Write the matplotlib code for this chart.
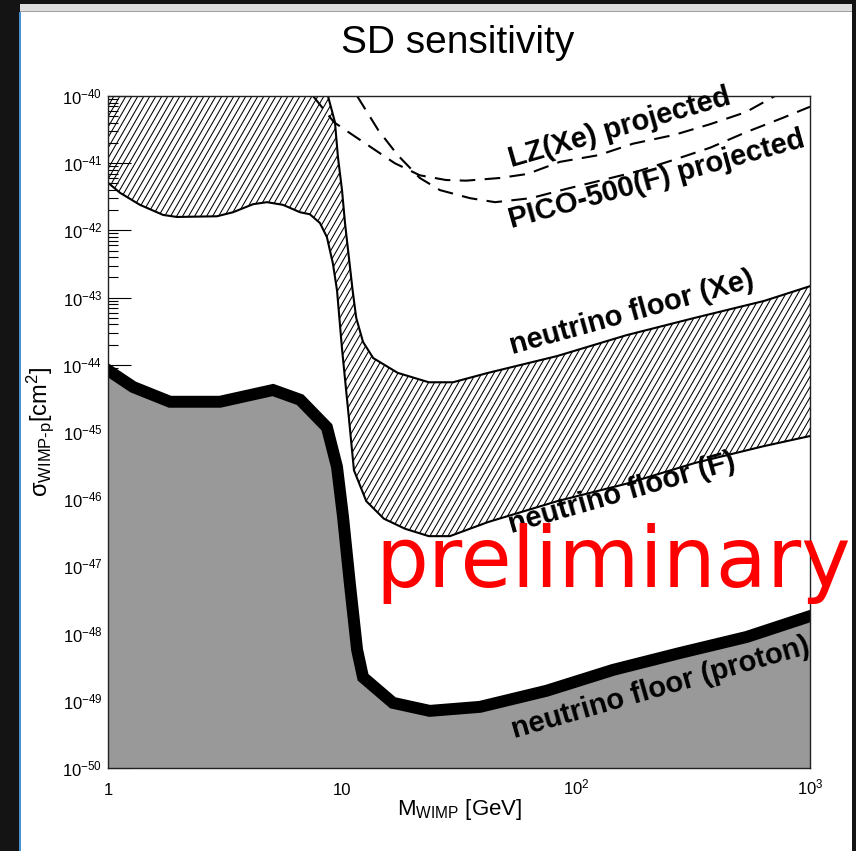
import numpy as np
import matplotlib
matplotlib.use("Agg")
import matplotlib.pyplot as plt
from matplotlib.patches import Rectangle
from matplotlib.collections import LineCollection
from matplotlib.ticker import FixedLocator, LogLocator, NullFormatter, NullLocator

plt.rcParams['font.family'] = ['Liberation Sans', 'DejaVu Sans']
plt.rcParams['mathtext.fontset'] = 'custom'
plt.rcParams['mathtext.rm'] = 'Liberation Sans'
plt.rcParams['mathtext.it'] = 'Liberation Sans:italic'
plt.rcParams['mathtext.bf'] = 'Liberation Sans:bold'
plt.rcParams['mathtext.default'] = 'regular'

# ---------------- data (log10 of cross-section in cm^2) ----------------
xe_floor_mass = [8.71, 9.33, 9.61, 10.0, 10.3, 10.7, 11.1, 11.5, 12.3, 13.6, 17.3,
                 23.5, 29.8, 42.1, 83.0, 164, 323, 636, 1000]
xe_floor_logsig = [-40.0, -40.39, -40.91, -41.40, -41.89, -42.40, -42.89, -43.30, -43.66,
                   -43.90, -44.12, -44.26, -44.26, -44.12, -43.87, -43.56, -43.30, -43.05, -42.83]

f_floor_mass = [1.00, 1.125, 1.37, 1.72, 1.97, 2.92, 3.42, 4.17, 4.78, 5.60, 6.62, 7.29,
                8.05, 8.62, 9.14, 9.52, 10.0, 10.7, 11.25, 12.7, 15.1, 18.6, 23.5, 28.9,
                42.1, 83.0, 164, 323, 636, 1000]
f_floor_logsig = [-41.29, -41.44, -41.62, -41.77, -41.80, -41.79, -41.73, -41.61, -41.58,
                  -41.62, -41.73, -41.76, -41.89, -42.10, -42.49, -42.89, -43.76, -44.79,
                  -45.57, -46.03, -46.29, -46.44, -46.55, -46.55, -46.34, -46.03, -45.77,
                  -45.46, -45.21, -45.06]

proton_floor_mass = [1.0, 1.28, 1.84, 3.01, 5.07, 6.62, 8.62, 9.52, 10.1, 10.8, 11.6, 12.3,
                     16.5, 23.7, 38.9, 75.0, 144, 277, 536, 1000]
proton_floor_logsig = [-44.08, -44.33, -44.55, -44.55, -44.375, -44.52, -44.93, -45.52,
                       -46.26, -47.25, -48.24, -48.65, -49.03, -49.15, -49.09, -48.85,
                       -48.54, -48.29, -48.05, -47.74]

lz_mass = [7.52, 9.24, 11.0, 13.4, 16.8, 21.5, 27.8, 33.9, 47.3, 62.0, 85.4, 125, 175,
           262, 374, 532, 708]
lz_logsig = [-40.0, -40.39, -40.57, -40.77, -41.0, -41.18, -41.25, -41.26, -41.22, -41.16,
             -40.98, -40.88, -40.71, -40.58, -40.42, -40.24, -40.0]

pico_mass = [11.6, 14.3, 17.3, 21.5, 26.2, 35.2, 45.1, 64.2, 91.5, 130, 184, 262, 374,
             532, 759, 1000]
pico_logsig = [-40.0, -40.51, -40.88, -41.22, -41.40, -41.52, -41.58, -41.52, -41.38,
               -41.25, -41.12, -40.95, -40.77, -40.54, -40.33, -40.16]

ytick_exponents = [-40, -41, -42, -43, -44, -45, -46, -47, -48, -49, -50]
xtick_values = [1, 10, 100, 1000]
xtick_labels = ['1', '10', r'$10^{2}$', r'$10^{3}$']

labels = [
    ("LZ(Xe) projected", 154, -40.48, 16.0),
    ("PICO-500(F) projected", 222, -41.25, 15.5),
    ("neutrino floor (Xe)", 173, -43.23, 15.5),
    ("neutrino floor (F)", 157, -45.91, 16.0),
    ("neutrino floor (proton)", 229, -48.81, 16.0),
]

def sig(v):
    return 10.0 ** np.asarray(v, dtype=float)

# ---------------- figure ----------------
W, H = 856, 851
fig = plt.figure(figsize=(W / 100, H / 100), dpi=100, facecolor='#141414')

def px_rect(x0, y0, x1, y1, color):
    fig.patches.append(Rectangle((x0 / W, 1 - y1 / H), (x1 - x0) / W, (y1 - y0) / H,
                                 transform=fig.transFigure, facecolor=color,
                                 edgecolor='none', zorder=-10))

px_rect(20, 12, 852, 851, 'white')
px_rect(20, 4, 852, 11, '#dedede')
px_rect(20, 11, 852, 12, '#a0a0a0')
px_rect(19, 12, 20.5, 851, '#4a90d0')

ax = fig.add_axes([108 / W, 1 - 768 / H, 702 / W, 672 / H])
ax.set_facecolor('white')
ax.set_xscale('log')
ax.set_yscale('log')
xmin, xmax = 1, 1000
ymin, ymax = 1e-50, 1e-40
ax.set_xlim(xmin, xmax)
ax.set_ylim(ymin, ymax)
ax.set_axisbelow(True)

# hatched band between F floor and Xe floor
poly_x = np.concatenate([f_floor_mass, xe_floor_mass[::-1], [xmin]])
poly_y = np.concatenate([sig(f_floor_logsig), sig(xe_floor_logsig[::-1]), [ymax]])
poly = ax.fill(poly_x, poly_y, facecolor='none', edgecolor='none', zorder=1.2)[0]
ang = np.deg2rad(60)
d = (672 / np.tan(ang)) / 702
step = 6.0 / 702
segs = [[(x0, 0), (x0 + d, 1)] for x0 in np.arange(-d - step, 1 + step, step)]
lc = LineCollection(segs, transform=ax.transAxes, colors='black', linewidths=0.75, zorder=1.2)
lc.set_clip_path(poly)
ax.add_collection(lc, autolim=False)

# floors
ax.plot(xe_floor_mass, sig(xe_floor_logsig), color='black', lw=1.5, zorder=2)
ax.plot(f_floor_mass, sig(f_floor_logsig), color='black', lw=1.5, zorder=2)

# proton floor: grey fill + thick line
ax.fill_between(proton_floor_mass, sig(proton_floor_logsig), ymin, color='#999999',
                lw=0, zorder=1.5)
ax.plot(proton_floor_mass, sig(proton_floor_logsig), color='black', lw=8.6,
        solid_joinstyle='miter', zorder=2.2)

# projections
ax.plot(lz_mass, sig(lz_logsig), color='black', lw=1.5, ls=(0, (7.5, 4.5)), zorder=2)
ax.plot(pico_mass, sig(pico_logsig), color='black', lw=1.5, ls=(0, (7.5, 4.5)), zorder=2)

ax.set_xlim(xmin, xmax)
ax.set_ylim(ymin, ymax)

# axes styling
for s in ax.spines.values():
    s.set_linewidth(1.0)
    s.set_color('#222222')
    s.set_zorder(3)

ax.xaxis.set_major_locator(NullLocator())
ax.xaxis.set_minor_locator(NullLocator())
ax.yaxis.set_major_locator(FixedLocator([10.0 ** e for e in ytick_exponents]))
ax.yaxis.set_minor_locator(LogLocator(base=10, subs=np.arange(2, 10), numticks=30))
ax.yaxis.set_minor_formatter(NullFormatter())
ax.set_yticklabels([r'$10^{%d}$' % e for e in ytick_exponents])
ax.tick_params(axis='y', which='major', direction='in', length=16.5, width=0.8,
               labelsize=12, pad=4, left=True, right=False)
ax.tick_params(axis='y', which='minor', direction='in', length=7.5, width=0.8,
               left=True, right=False)

xtr = ax.get_xaxis_transform()
for v, lab in zip(xtick_values, xtick_labels):
    ax.text(v, -0.040, lab, transform=xtr, ha='center', va='baseline', fontsize=12,
            clip_on=False)

# titles
fig.text(458 / W, 1 - 43 / H, 'SD sensitivity', ha='center', va='center', fontsize=28)
fig.text(460 / W, 1 - 815 / H, r'M$_{WIMP}$ [GeV]', ha='center', va='baseline', fontsize=16)
fig.text(40 / W, 1 - 432 / H, r'$\sigma_{WIMP\text{-}p}$[cm$^{2}$]', rotation=90,
         ha='center', va='center', fontsize=17)

# curve labels
for txt, m, ls_, rot in labels:
    ax.text(m, 10.0 ** ls_, txt, rotation=rot, rotation_mode='anchor', ha='center',
            va='center', fontsize=21, fontweight='bold', zorder=4)

# watermark
fig.text(375 / W, 1 - 587 / H, 'preliminary', color='red', fontsize=60,
         family=['DejaVu Sans'], ha='left', va='baseline', zorder=10)

fig.savefig('out.png', dpi=100, facecolor=fig.get_facecolor())
